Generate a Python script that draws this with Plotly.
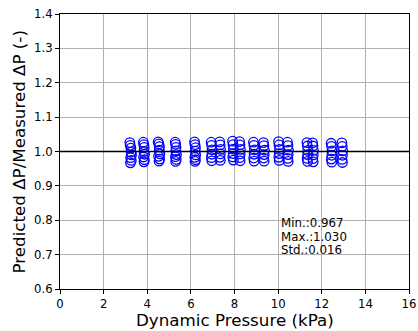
import plotly.graph_objects as go

# Dynamic pressure (kPa) and predicted/measured ratio, grouped by test condition
x_vals = [
    3.20, 3.22, 3.25, 3.26, 3.28, 3.24, 3.27, 3.23,
    3.82, 3.84, 3.86, 3.85, 3.88, 3.83, 3.87, 3.85,
    4.50, 4.53, 4.56, 4.55, 4.58, 4.52, 4.57, 4.54,
    5.28, 5.30, 5.32, 5.31, 5.34, 5.29, 5.33, 5.30,
    6.17, 6.19, 6.21, 6.20, 6.22, 6.18, 6.21, 6.19,
    6.93, 6.95, 6.97, 6.96, 6.94, 6.96,
    7.32, 7.34, 7.36, 7.35, 7.33, 7.35,
    7.91, 7.93, 7.95, 7.94, 7.92, 7.95,
    8.23, 8.25, 8.27, 8.26, 8.24, 8.26,
    8.87, 8.89, 8.91, 8.90, 8.88, 8.90,
    9.33, 9.35, 9.37, 9.36, 9.34, 9.36,
    10.02, 10.04, 10.06, 10.05, 10.03, 10.05,
    10.43, 10.45, 10.47, 10.46, 10.44, 10.46,
    11.32, 11.34, 11.36, 11.35, 11.33, 11.35,
    11.58, 11.60, 11.62, 11.61, 11.59, 11.61,
    12.43, 12.45, 12.47, 12.46, 12.44, 12.46,
    12.92, 12.94, 12.96, 12.95, 12.93, 12.95,
]
ratio_vals = [
    1.026, 1.018, 1.010, 0.998, 0.990, 0.982, 0.974, 0.967,
    1.027, 1.020, 1.012, 1.000, 0.992, 0.984, 0.976, 0.970,
    1.028, 1.022, 1.014, 1.004, 0.993, 0.986, 0.978, 0.972,
    1.027, 1.021, 1.012, 1.002, 0.991, 0.985, 0.977, 0.971,
    1.028, 1.020, 1.011, 1.001, 0.990, 0.983, 0.976, 0.971,
    1.027, 1.018, 1.005, 0.992, 0.982, 0.973,
    1.028, 1.019, 1.006, 0.993, 0.983, 0.974,
    1.030, 1.020, 1.007, 0.994, 0.984, 0.975,
    1.029, 1.019, 1.006, 0.993, 0.982, 0.973,
    1.027, 1.018, 1.005, 0.992, 0.981, 0.972,
    1.026, 1.017, 1.004, 0.991, 0.981, 0.972,
    1.029, 1.019, 1.006, 0.994, 0.983, 0.974,
    1.027, 1.017, 1.004, 0.991, 0.980, 0.971,
    1.026, 1.016, 1.003, 0.991, 0.980, 0.971,
    1.025, 1.016, 1.003, 0.990, 0.979, 0.970,
    1.024, 1.015, 1.002, 0.989, 0.978, 0.969,
    1.025, 1.015, 1.002, 0.989, 0.977, 0.968,
]

x_ticks = [0, 2, 4, 6, 8, 10, 12, 14, 16]
y_ticks = [0.6, 0.7, 0.8, 0.9, 1.0, 1.1, 1.2, 1.3, 1.4]
stats_lines = ["Min.:0.967", "Max.:1.030", "Std.:0.016"]
stats_x = 10.05
stats_y = [0.792, 0.7527, 0.7135]
x_title = "Dynamic Pressure (kPa)"
y_title = "Predicted ΔP/Measured ΔP (-)"

FONT = "DejaVu Sans"

fig = go.Figure()
fig.add_trace(go.Scatter(
    x=x_vals, y=ratio_vals, mode="markers",
    marker=dict(symbol="circle-open", size=9.5, color="#0000ff",
                line=dict(width=1.3, color="#0000ff")),
    showlegend=False,
))

fig.add_hline(y=1.0, line=dict(color="black", width=1.6))

for txt, yy in zip(stats_lines, stats_y):
    fig.add_annotation(
        x=stats_x, y=yy, xref="x", yref="y", text=txt,
        showarrow=False, xanchor="left", yanchor="middle", align="left",
        font=dict(family=FONT, size=11.8, color="black"),
    )

# Axis titles placed as annotations for precise positioning
fig.add_annotation(
    x=0.5, y=-0.113, xref="paper", yref="paper", text=x_title,
    showarrow=False, xanchor="center", yanchor="middle", borderpad=0,
    font=dict(family=FONT, size=16.7, color="black"),
)
fig.add_annotation(
    x=-0.1175, y=0.5, xref="paper", yref="paper", text=y_title,
    showarrow=False, xanchor="center", yanchor="middle", textangle=-90,
    borderpad=0,
    font=dict(family=FONT, size=16.7, color="black"),
)

axis_common = dict(
    showline=True, linecolor="black", linewidth=1, mirror=True,
    showgrid=True, gridcolor="#b0b0b0", gridwidth=0.8,
    ticks="outside", ticklen=4, tickcolor="black", tickwidth=1,
    zeroline=False, automargin=False,
    tickfont=dict(family=FONT, size=11.7, color="black"),
)

fig.update_xaxes(range=[0, 16], tickvals=x_ticks,
                 ticktext=[str(v) for v in x_ticks], **axis_common)
fig.update_yaxes(range=[0.6, 1.4], tickvals=y_ticks,
                 ticktext=[f"{v:.1f}" for v in y_ticks], **axis_common)

fig.update_layout(
    template="none",
    width=418, height=331,
    margin=dict(l=60, r=9, t=14, b=42),
    paper_bgcolor="white", plot_bgcolor="white",
    font=dict(family=FONT),
)

fig.write_html("out.html")
